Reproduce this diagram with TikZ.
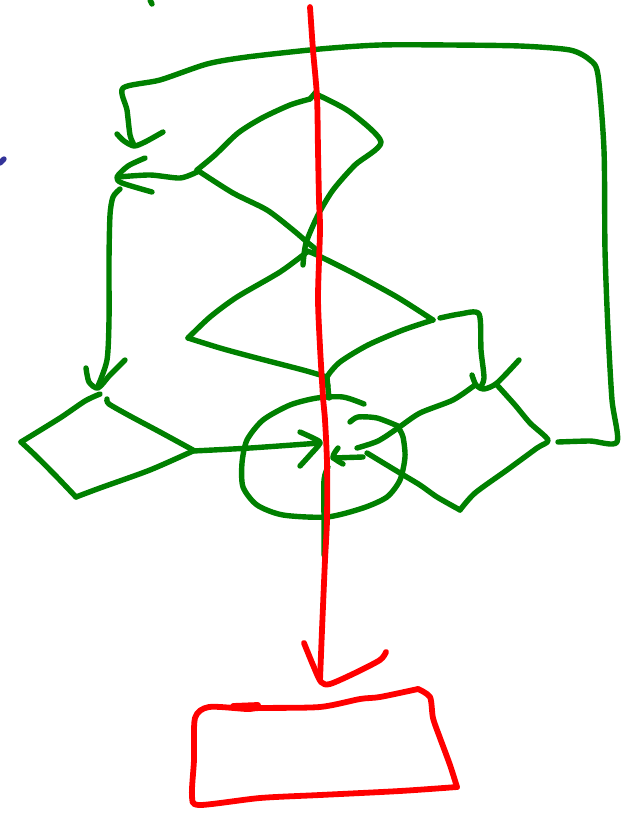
\documentclass[tikz,border=0pt]{standalone}
\begin{document}
\begin{tikzpicture}[x=1pt,y=-1pt,
  greenink/.style={draw={rgb,255:red,0;green,128;blue,0},line width=5.4pt,line cap=round,line join=round},
  redink/.style={draw={rgb,255:red,255;green,0;blue,0},line width=5.8pt,line cap=round,line join=round},
  blueink/.style={draw={rgb,255:red,51;green,51;blue,153},line width=5.4pt,line cap=round},
  sk/.style={smooth,tension=0.45}]
\useasboundingbox (0,0) rectangle (635,817);
% stray marks
\draw[greenink] (150,0) -- (152,4);
\draw[blueink] (0,163) -- (4,159);
% outer loop (top) with arrow
\draw[greenink] plot[sk] coordinates {(558,442) (590,441) (617,442) (612,400) (608,330) (605,250) (604,150) (598,75) (590,60) (570,50) (520,46) (450,45) (380,45) (320,49) (247,57) (207,64) (160,80) (123,88) (127,110) (130,135) (134,145)};
\draw[greenink] plot[sk] coordinates {(117,134) (124,141) (134,146) (145,142) (163,132)};
% upper diamond
\draw[greenink] plot[sk] coordinates {(310,99) (290,105) (262,118) (238,133) (215,155) (197,170)};
\draw[greenink] (310,99) -- (316,92);
\draw[greenink] plot[sk] coordinates {(197,170) (233,193) (267,210) (293,230) (307,242) (318,251)};
\draw[greenink] plot[sk] coordinates {(318,95) (350,112) (381,142) (355,165) (333,190) (318,215) (306,243) (303,265)};
% arrow from upper diamond to the left
\draw[greenink] plot[sk] coordinates {(197,172) (180,178) (150,175) (118,177)};
\draw[greenink] plot[sk] coordinates {(145,158) (128,166) (117,177) (122,183) (152,192)};
% line down to lower-left diamond with arrow
\draw[greenink] plot[sk] coordinates {(120,189) (113,197) (110,215) (109,260) (109,320) (107,360) (98,386)};
\draw[greenink] plot[sk] coordinates {(86,368) (89,382) (98,388) (110,375) (125,360)};
% middle diamond
\draw[greenink] plot[sk] coordinates {(307,251) (317,255) (353,273) (397,297) (433,320)};
\draw[greenink] plot[sk] coordinates {(433,320) (403,330) (368,345) (340,362) (327,377) (328,386)};
\draw[greenink] plot[sk] coordinates {(307,252) (280,272) (237,297) (210,317) (188,338)};
\draw[greenink] plot[sk] coordinates {(188,338) (220,348) (253,357) (303,370) (327,377)};
% line from middle diamond right to right-diamond arrow
\draw[greenink] plot[sk] coordinates {(440,318) (460,314) (479,314) (481,350) (484,378) (480,388)};
\draw[greenink] plot[sk] coordinates {(472,375) (476,385) (484,389) (497,383) (519,360)};
% lower-left diamond
\draw[greenink] plot[sk] coordinates {(100,394) (85,401) (60,418) (21,442)};
\draw[greenink] plot[sk] coordinates {(21,442) (35,455) (55,475) (76,497)};
\draw[greenink] plot[sk] coordinates {(76,497) (100,488) (150,470) (193,451)};
\draw[greenink] plot[sk] coordinates {(193,450) (160,432) (130,416) (109,404) (107,399)};
% arrow from lower-left diamond into centre
\draw[greenink] plot[sk] coordinates {(193,451) (250,448) (320,443)};
\draw[greenink] plot[sk] coordinates {(300,432) (313,438) (320,443) (310,455) (300,466)};
% ellipse
\draw[greenink] plot[sk] coordinates {(364,404) (343,397) (317,398) (290,405) (263,420) (247,440) (242,463) (243,487) (257,505) (283,515) (327,517) (363,508) (387,497) (400,480) (405,457) (403,437) (398,427)};
% right diamond
\draw[greenink] plot[sk] coordinates {(497,385) (515,405) (530,423) (548,440) (537,448) (507,470) (475,493) (460,510)};
\draw[greenink] plot[sk] coordinates {(460,510) (437,497) (420,485) (400,473) (367,453)};
\draw[greenink] plot[sk] coordinates {(475,385) (453,400) (420,413) (398,428) (378,441) (357,448)};
\draw[greenink] plot[sk] coordinates {(350,422) (358,417) (377,418) (398,426)};
% small arrow in centre
\draw[greenink] (363,457) -- (333,458);
\draw[greenink] plot[sk] coordinates {(338,448) (333,457) (343,464)};
% centre stem
\draw[greenink] plot[sk] coordinates {(327,378) (329,398)};
\draw[greenink] plot[sk] coordinates {(328,467) (324,480) (324,520) (324,555)};
% red spine
\draw[redink] plot[sk] coordinates {(310,7) (313,50) (317,97) (318,150) (319,200) (320,230) (318,297) (320,347) (323,397) (325,420) (327,463) (327,520) (325,560) (322,630) (320,680)};
\draw[redink] plot[sk] coordinates {(304,643) (313,665) (321,682) (330,684) (355,673) (380,660) (386,652)};
% red box
\draw[redink] plot[sk] coordinates {(418,689) (380,697) (360,699) (320,707) (260,708) (247,709) (209,707) (195,718) (194,760) (192,795) (199,805) (260,798) (320,795) (400,791) (457,787)};
\draw[redink] plot[sk] coordinates {(457,787) (450,765) (440,738) (433,718) (430,697) (418,689)};
\draw[redink] (233,706) -- (258,705);
\end{tikzpicture}
\end{document}
